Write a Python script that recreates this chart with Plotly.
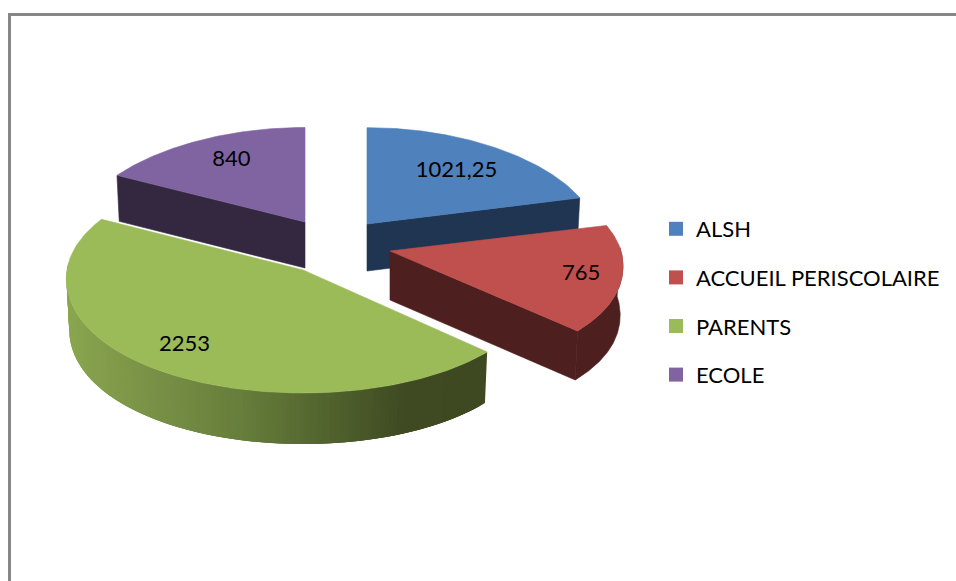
import numpy as np
import plotly.graph_objects as go

categories = ["ALSH", "ACCUEIL PERISCOLAIRE", "PARENTS", "ECOLE"]
values = [1021.25, 765, 2253, 840]
value_labels = ["1021,25", "765", "2253", "840"]
top_colors = ["#4F81BD", "#C0504D", "#9BBB59", "#8064A2"]
side_colors = ["#1F3552", "#4D1F1E", None, "#33283F"]

# Per-slice projection of the exploded pie: centre, radius, back/front flattening, depth
centres = [(367, 224), (390, 251), (303, 270), (305, 222)]
radii = [228, 231, 236, 228]
persp = [0.14, 0.133, 0.07, 0.14]
back_r = [106, 106, 113, 104]
front_r = [120, 120, 123, 120]
depths = [47, 49, 51, 46]
label_shift = [1.5, 0, 3.2, 1.5]
label_frac = [0.67, 0.83, 0.78, 0.72]

grad_x = [64, 150, 250, 350, 410, 490]
grad_rgb = [(139, 168, 81), (123, 147, 71), (103, 126, 60), (78, 95, 44), (64, 75, 35), (62, 73, 34)]

total = sum(values)
edges = np.concatenate([[0], np.cumsum(values)]) / total * 360


def proj(i, theta_deg, f=1.0):
    t = np.radians(theta_deg)
    X, Y = f * np.sin(t), f * np.cos(t)
    cx, cy = centres[i]
    x = cx + radii[i] * X * (1 - persp[i] * Y)
    ypos = np.maximum(Y, 0)
    yneg = np.maximum(-Y, 0)
    y = cy - back_r[i] * ypos / (1 + 0.1 * ypos) + front_r[i] * yneg
    return x, y


def lower(i, x, y):
    cx = centres[i][0]
    return x + (cx - x) * 0.012, y + depths[i]


def poly(x, y, color):
    return go.Scatter(
        x=np.append(x, x[0]), y=np.append(y, y[0]), mode="lines", fill="toself",
        fillcolor=color, line=dict(color=color, width=0.6), hoverinfo="skip", showlegend=False,
    )


def green_colour(x):
    return "rgb(%d,%d,%d)" % tuple(np.interp(x, grad_x, [c[k] for c in grad_rgb]) for k in range(3))


fig = go.Figure()
for i in [3, 0, 1, 2]:
    a0, a1 = edges[i], edges[i + 1]
    th = np.linspace(a0, a1, 160)
    ax, ay = proj(i, th)
    tx, ty = centres[i]
    if i in (0, 1, 3):
        # visible radial cut face
        e = a1 if i in (0, 1) else a0
        ex, ey = proj(i, e)
        bx0, by0 = lower(i, tx, ty)
        bx1, by1 = lower(i, ex, ey)
        fig.add_trace(poly(np.array([tx, ex, bx1, bx0]), np.array([ty, ey, by1, by0]), side_colors[i]))
    if i == 1:
        wall = th[th > 88]
        wx, wy = proj(i, wall)
        bx, by = lower(i, wx, wy)
        fig.add_trace(poly(np.concatenate([wx, bx[::-1]]), np.concatenate([wy, by[::-1]]), side_colors[i]))
    if i == 2:
        # gradient wall painted from the far end so each band overlaps the next one
        wall = np.arange(a0, 274, 1.0)
        wx, wy = proj(i, wall)
        bx, by = lower(i, wx, wy)
        for k in range(len(wall) - 2, -1, -1):
            j = min(k + 3, len(wall) - 1)
            fig.add_trace(go.Scatter(
                x=[wx[k], wx[j], bx[j], bx[k], wx[k]], y=[wy[k], wy[j], by[j], by[k], wy[k]],
                mode="lines", fill="toself", fillcolor=green_colour((wx[k] + wx[k + 1]) / 2),
                line=dict(width=0), hoverinfo="skip", showlegend=False,
            ))
    fig.add_trace(poly(np.concatenate([[tx], ax]), np.concatenate([[ty], ay]), top_colors[i]))

# data labels
lx, ly = [], []
for i in range(4):
    mid = (edges[i] + edges[i + 1]) / 2 + label_shift[i]
    x, y = proj(i, mid, label_frac[i])
    lx.append(float(x))
    ly.append(float(y))
fig.add_trace(go.Scatter(
    x=lx, y=ly, mode="text", text=value_labels, textposition="middle center",
    textfont=dict(family="Lato", size=22, color="#000000"), hoverinfo="skip", showlegend=False,
))

# legend entries
for name, color in zip(categories, top_colors):
    fig.add_trace(go.Scatter(
        x=[None], y=[None], mode="markers", name=name, legendgroup=name,
        marker=dict(symbol="square", size=14, color=color),
    ))

fig.update_layout(
    width=956, height=581, margin=dict(l=0, r=0, t=0, b=0),
    paper_bgcolor="white", plot_bgcolor="white",
    xaxis=dict(visible=False, range=[0, 956], fixedrange=True),
    yaxis=dict(visible=False, range=[581, 0], fixedrange=True),
    showlegend=True,
    legend=dict(
        x=656 / 956, y=1 - 208 / 581, xanchor="left", yanchor="top",
        font=dict(family="Lato", size=22, color="#000000"),
        tracegroupgap=17, itemwidth=30, bgcolor="rgba(0,0,0,0)", traceorder="grouped",
    ),
    shapes=[
        dict(type="line", xref="x", yref="y", x0=9.5, y0=13, x1=9.5, y1=581, line=dict(color="#868686", width=3)),
        dict(type="line", xref="x", yref="y", x0=8, y0=14.5, x1=956, y1=14.5, line=dict(color="#868686", width=3)),
    ],
)
fig.write_html("out.html", post_script="document.body.style.margin='0';", config={"displayModeBar": False})
